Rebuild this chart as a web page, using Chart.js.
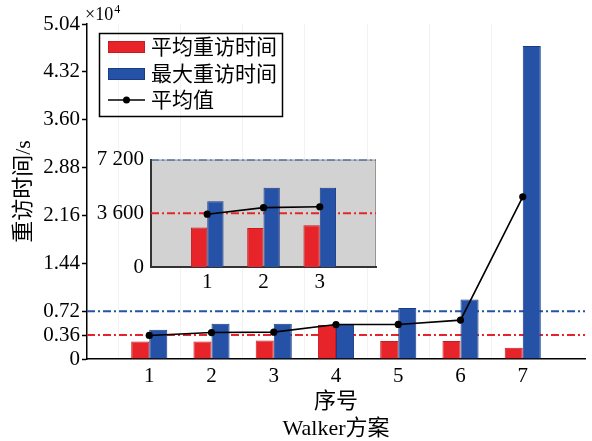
<!DOCTYPE html>
<html>
<head>
<meta charset="utf-8">
<script src="https://cdn.jsdelivr.net/npm/chart.js@4.4.1/dist/chart.umd.min.js"></script>
<style>
  html, body { margin: 0; padding: 0; background: #fff; }
  #wrap { position: relative; width: 592px; height: 441px; overflow: hidden; }
  #main { position: absolute; left: 0; top: 0; }
  #inset { position: absolute; left: 90px; top: 140px; }
</style>
</head>
<body>
<div id="wrap">
  <canvas id="main" width="592" height="441"></canvas>
  <canvas id="inset" width="300" height="160"></canvas>
</div>
<script>
// Walker constellation schemes and their revisit times (seconds)
const categories = ['1', '2', '3', '4', '5', '6', '7'];
const insetCategories = ['1', '2', '3'];
const seriesNames = ['平均重访时间', '最大重访时间', '平均值'];
const avgRevisit = [2640, 2620, 2800, 5100, 2700, 2700, 1690];
const maxRevisit = [4410, 5310, 5310, 5250, 7690, 8950, 47100];
const meanValue  = [3540, 3980, 4040, 5180, 5200, 5850, 24400];
const thresholds = [7200, 3600];   // two-hour and one-hour reference levels

const mainTickValues = [0, 3600, 7200, 14400, 21600, 28800, 36000, 43200, 50400];
const mainTickLabels = ['0', '0.36', '0.72', '1.44', '2.16', '2.88', '3.60', '4.32', '5.04'];
const insetTickValues = [0, 3600, 7200];
const insetTickLabels = ['0', '3 600', '7 200'];

const RED = 'rgb(230,36,41)';
const BLUE = 'rgb(37,82,166)';
const SERIF = "'Liberation Serif', 'Noto Sans CJK SC', serif";

// one empty slot on each side of the categories
const pad = a => [null, ...a, null];

function buildDatasets(cats, red, blue, mean) {
  const n = cats.length + 2;
  return [
    { type: 'line', label: seriesNames[2], data: pad(mean), borderColor: '#000', backgroundColor: '#000',
      borderWidth: 1.6, pointRadius: 3.6, pointBackgroundColor: '#000', pointBorderWidth: 0, order: 0 },
    { type: 'bar', label: seriesNames[0], data: pad(red), backgroundColor: RED,
      borderColor: 'rgb(196,28,33)', borderWidth: 1, order: 1 },
    { type: 'bar', label: seriesNames[1], data: pad(blue), backgroundColor: BLUE,
      borderColor: 'rgb(26,60,130)', borderWidth: 1, order: 1 },
    { type: 'line', label: 'ref-' + thresholds[0], data: new Array(n).fill(thresholds[0]), borderColor: BLUE,
      borderWidth: 2, borderDash: [8, 3, 2, 3], pointRadius: 0, order: 2 },
    { type: 'line', label: 'ref-' + thresholds[1], data: new Array(n).fill(thresholds[1]), borderColor: RED,
      borderWidth: 2, borderDash: [8, 3, 2, 3], pointRadius: 0, order: 2 }
  ];
}

// boxed legend in the upper left of the plot, plus the ×10^4 exponent
const mainDecor = {
  id: 'mainDecor',
  afterDraw(chart) {
    const ctx = chart.ctx;
    const ds = chart.data.datasets;
    ctx.save();
    ctx.strokeStyle = '#000';
    ctx.lineWidth = 1.5;
    ctx.strokeRect(99.5, 33.5, 183, 83);
    const rows = [47, 74, 100];
    const entries = [ds[1], ds[2], ds[0]];
    entries.forEach((d, i) => {
      const y = rows[i];
      if (d.type === 'bar') {
        ctx.fillStyle = d.backgroundColor;
        ctx.fillRect(108, y - 6, 37, 12);
        ctx.strokeStyle = d.borderColor;
        ctx.lineWidth = 1;
        ctx.strokeRect(108.5, y - 5.5, 36, 11);
      } else {
        ctx.strokeStyle = d.borderColor;
        ctx.lineWidth = 1.6;
        ctx.beginPath(); ctx.moveTo(108, y); ctx.lineTo(145, y); ctx.stroke();
        ctx.fillStyle = '#000';
        ctx.beginPath(); ctx.arc(126.5, y, 3.5, 0, Math.PI * 2); ctx.fill();
      }
      ctx.fillStyle = '#000';
      ctx.font = '21px ' + SERIF;
      ctx.textAlign = 'left';
      ctx.textBaseline = 'middle';
      ctx.fillText(d.label, 151, y + 1);
    });
    // axis exponent
    ctx.fillStyle = '#000';
    ctx.textBaseline = 'alphabetic';
    ctx.font = '18px ' + SERIF;
    ctx.fillText('×10', 85, 20);
    const w = ctx.measureText('×10').width;
    ctx.font = '12px ' + SERIF;
    ctx.fillText('4', 85 + w + 1, 13);
    ctx.restore();
  }
};

const nMain = categories.length + 2;
new Chart(document.getElementById('main'), {
  data: { labels: pad(categories).map(v => v === null ? '' : v),
          datasets: buildDatasets(categories, avgRevisit, maxRevisit, meanValue) },
  options: {
    responsive: false, animation: false, devicePixelRatio: 1,
    layout: { padding: { left: 0, top: 24, right: 7, bottom: 0 } },
    plugins: { legend: { display: false }, tooltip: { enabled: false } },
    datasets: { bar: { categoryPercentage: 0.58, barPercentage: 1 } },
    scales: {
      x: {
        type: 'category', offset: false,
        grid: { color: c => (c.index === 0 || c.index === nMain - 1) ? 'rgba(0,0,0,0)' : 'rgba(0,0,0,0.05)',
                drawTicks: false },
        border: { color: '#000', width: 1.5 },
        ticks: { font: { family: SERIF, size: 21 }, color: '#000', padding: 5, maxRotation: 0, autoSkip: false },
        title: { display: true, text: ['序号', 'Walker方案'], color: '#000',
                 font: { family: SERIF, size: 22, lineHeight: 1.25 }, padding: { top: 0, bottom: -2 } },
        afterFit: s => { s.height = 441 - 359; }
      },
      y: {
        min: 0, max: 50400,
        afterBuildTicks: s => { s.ticks = mainTickValues.map(v => ({ value: v })); },
        ticks: { callback: (v, i) => mainTickLabels[i], font: { family: SERIF, size: 21 }, color: '#000',
                 padding: 2, autoSkip: false },
        grid: { drawOnChartArea: false, tickLength: 5, color: '#000', tickWidth: 1.5 },
        border: { color: '#000', width: 1.5 },
        title: { display: true, text: '重访时间/s', color: '#000',
                 font: { family: SERIF, size: 22 }, padding: { top: 11, bottom: 0 } },
        afterFit: s => { s.width = 87; }
      }
    }
  },
  plugins: [mainDecor]
});

// grey panel behind the zoomed view
const insetPanel = {
  id: 'insetPanel',
  beforeDraw(chart) {
    const { ctx, chartArea: a } = chart;
    ctx.save();
    ctx.fillStyle = 'rgb(210,210,210)';
    ctx.fillRect(a.left, a.top, a.right - a.left, a.bottom - a.top);
    ctx.strokeStyle = 'rgb(150,150,150)';
    ctx.lineWidth = 1;
    ctx.strokeRect(a.left + 0.5, a.top + 0.5, a.right - a.left - 1, a.bottom - a.top - 1);
    ctx.restore();
  }
};

const nInset = insetCategories.length;
new Chart(document.getElementById('inset'), {
  data: { labels: pad(insetCategories).map(v => v === null ? '' : v),
          datasets: buildDatasets(insetCategories, avgRevisit.slice(0, nInset),
                                  maxRevisit.slice(0, nInset), meanValue.slice(0, nInset)) },
  options: {
    responsive: false, animation: false, devicePixelRatio: 1,
    layout: { padding: { left: 0, top: 15, right: 14, bottom: 0 } },
    plugins: { legend: { display: false }, tooltip: { enabled: false } },
    datasets: { bar: { categoryPercentage: 0.58, barPercentage: 1 } },
    scales: {
      x: {
        type: 'category', offset: false,
        grid: { display: false, drawTicks: false },
        border: { display: true, color: '#333', width: 2 },
        ticks: { font: { family: SERIF, size: 21 }, color: '#000', padding: 3, maxRotation: 0, autoSkip: false },
        afterFit: s => { s.height = 33; }
      },
      y: {
        min: 0, max: 7200,
        afterBuildTicks: s => { s.ticks = insetTickValues.map(v => ({ value: v })); },
        ticks: { callback: (v, i) => insetTickLabels[i], font: { family: SERIF, size: 21 }, color: '#000',
                 padding: 7, autoSkip: false },
        grid: { display: false, drawTicks: false },
        border: { display: true, color: '#333', width: 2 },
        afterFit: s => { s.width = 61; }
      }
    }
  },
  plugins: [insetPanel]
});
</script>
</body>
</html>
